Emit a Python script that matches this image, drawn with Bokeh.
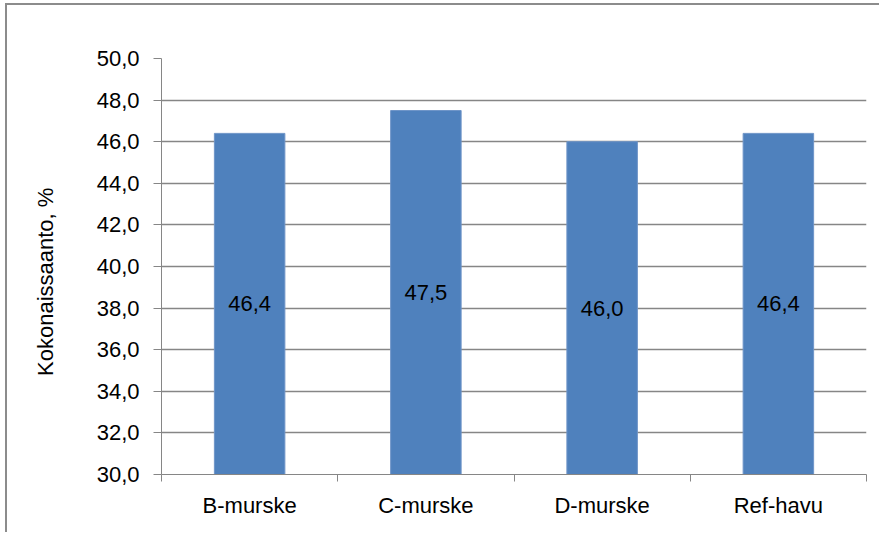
from bokeh.plotting import figure
from bokeh.models import Range1d, FixedTicker, ColumnDataSource
from bokeh.embed import file_html
from bokeh.resources import INLINE
from bokeh.core.properties import value

categories = ["B-murske", "C-murske", "D-murske", "Ref-havu"]
values = [46.4, 47.5, 46.0, 46.4]
y_ticks = [30, 32, 34, 36, 38, 40, 42, 44, 46, 48, 50]
y_label = "Kokonaissaanto, %"

FONT = "Liberation Sans"
FS = "22px"
GRID = "#868686"
BAR = "#4F81BD"

def fi(v):
    return f"{v:.1f}".replace(".", ",")

xs = [i + 0.5 for i in range(len(categories))]
src = ColumnDataSource(dict(
    x=xs, top=values, mid=[(y_ticks[0] + v) / 2 for v in values],
    lab=[fi(v) for v in values]))

p = figure(width=874, height=529, output_backend="svg", toolbar_location=None,
           x_range=Range1d(0, len(categories)), y_range=Range1d(y_ticks[0], y_ticks[-1]),
           min_border_left=154, min_border_right=15, min_border_top=53, min_border_bottom=60)
p.styles = {"margin-left": "5px", "margin-top": "3px",
            "border-left": "2px solid #8c8c8c", "border-top": "2px solid #8c8c8c"}
p.outline_line_color = None
p.background_fill_color = "white"

p.vbar(x="x", top="top", bottom=y_ticks[0], width=0.4, source=src,
       fill_color=BAR, line_color="#6f95c8", line_width=1)
p.text(x="x", y="mid", text="lab", source=src, text_align="center",
       text_baseline="middle", text_font=value(FONT), text_font_size=FS,
       text_color="black")

# y axis
p.yaxis.ticker = FixedTicker(ticks=y_ticks, minor_ticks=[])
p.yaxis.major_label_overrides = {t: fi(t) for t in y_ticks}
p.yaxis.axis_line_color = GRID
p.yaxis.major_tick_line_color = GRID
p.yaxis.major_tick_out = 8
p.yaxis.major_tick_in = 0
p.yaxis.minor_tick_line_color = None
p.yaxis.major_label_text_font = FONT
p.yaxis.major_label_text_font_size = FS
p.yaxis.major_label_text_color = "black"
p.yaxis.major_label_standoff = 14
p.yaxis.axis_label = y_label + "\u00a0" * 5
p.yaxis.axis_label_text_font = FONT
p.yaxis.axis_label_text_font_size = FS
p.yaxis.axis_label_text_font_style = "normal"
p.yaxis.axis_label_text_color = "black"
p.yaxis.axis_label_standoff = 36

# x axis
p.xaxis.ticker = FixedTicker(ticks=xs, minor_ticks=list(range(len(categories) + 1)))
p.xaxis.major_label_overrides = {x: c for x, c in zip(xs, categories)}
p.xaxis.axis_line_color = GRID
p.xaxis.major_tick_line_color = None
p.xaxis.major_tick_out = 0
p.xaxis.major_tick_in = 0
p.xaxis.minor_tick_line_color = GRID
p.xaxis.minor_tick_out = 7
p.xaxis.minor_tick_in = 0
p.xaxis.major_label_text_font = FONT
p.xaxis.major_label_text_font_size = FS
p.xaxis.major_label_text_color = "black"
p.xaxis.major_label_standoff = 11

p.xgrid.grid_line_color = None
p.ygrid.grid_line_color = GRID
p.ygrid.grid_line_width = 1.5

open("out.html", "w").write(file_html(p, INLINE))
